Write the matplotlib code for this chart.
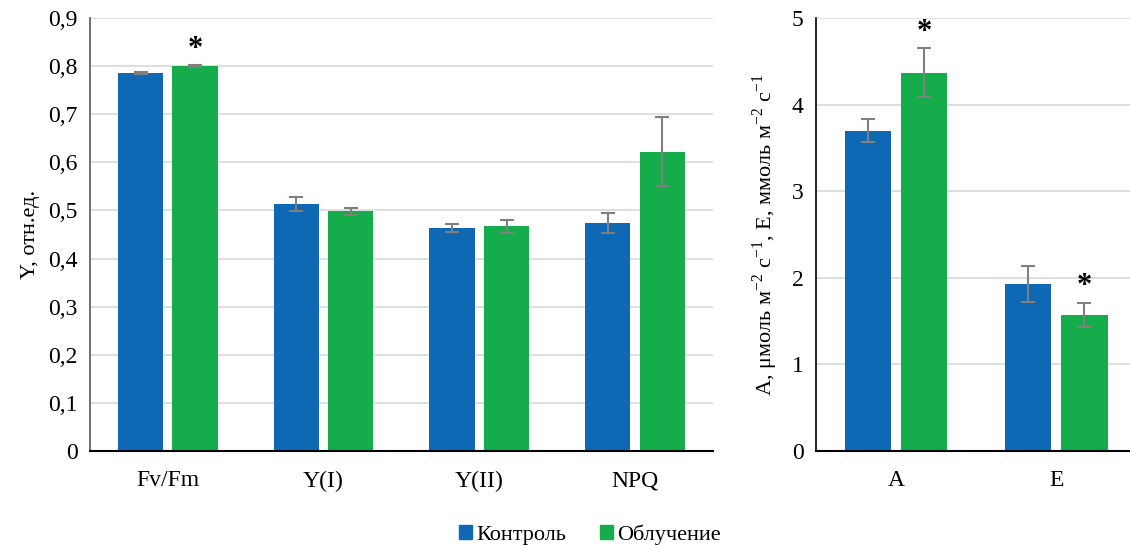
import matplotlib.pyplot as plt
import numpy as np
from matplotlib.patches import Patch

plt.rcParams['font.family'] = ['Liberation Serif', 'DejaVu Serif']
plt.rcParams['mathtext.fontset'] = 'custom'
plt.rcParams['mathtext.rm'] = 'Liberation Serif'

# left panel: fluorescence parameters
left_cats = ["Fv/Fm", "Y(I)", "Y(II)", "NPQ"]
left_ctrl = [0.786, 0.513, 0.464, 0.474]
left_ctrl_err = [0.002, 0.014, 0.008, 0.020]
left_irr = [0.800, 0.498, 0.467, 0.622]
left_irr_err = [0.002, 0.008, 0.014, 0.072]
left_star = [True, False, False, False]

# right panel: gas exchange
right_cats = ["A", "E"]
right_ctrl = [3.70, 1.93]
right_ctrl_err = [0.13, 0.21]
right_irr = [4.37, 1.57]
right_irr_err = [0.28, 0.14]
right_star = [True, True]

blue = "#0E68B4"
green = "#15AD4C"
grid_c = "#D9D9D9"
err_c = "#7F7F7F"

fig = plt.figure(figsize=(11.3, 5.46), dpi=100)
ax1 = fig.add_axes([0.0796, 0.174, 0.5513, 0.793])
ax2 = fig.add_axes([0.7221, 0.174, 0.2779, 0.793])

w = 0.29
off = 0.175


def draw(ax, cats, ctrl, cerr, irr, ierr, stars, star_pad):
    x = np.arange(len(cats))
    ax.bar(x - off, ctrl, w, color=blue, zorder=2)
    ax.bar(x + off, irr, w, color=green, zorder=2)
    ax.errorbar(x - off, ctrl, yerr=cerr, fmt='none', ecolor=err_c,
                elinewidth=1.5, capsize=5, capthick=1.5, zorder=3)
    ax.errorbar(x + off, irr, yerr=ierr, fmt='none', ecolor=err_c,
                elinewidth=1.5, capsize=5, capthick=1.5, zorder=3)
    for i, s in enumerate(stars):
        if s:
            ax.text(x[i] + off, irr[i] + ierr[i] + star_pad, "*",
                    ha='center', va='bottom', fontsize=22, fontweight='bold')
    ax.set_xticks(x)
    ax.set_xticklabels(cats, fontsize=17)
    ax.tick_params(axis='x', length=0, pad=14)
    ax.tick_params(axis='y', length=0, labelsize=17, pad=9)
    ax.yaxis.grid(True, color=grid_c, linewidth=1.2, zorder=0)
    ax.set_axisbelow(True)
    for sp in ['top', 'right']:
        ax.spines[sp].set_visible(False)
    ax.spines['bottom'].set_color('black')
    ax.spines['bottom'].set_linewidth(1.5)
    ax.set_xlim(-0.5, len(cats) - 0.5)


draw(ax1, left_cats, left_ctrl, left_ctrl_err, left_irr, left_irr_err, left_star, 0.002)
ax1.set_ylim(0, 0.9)
yt = np.arange(0, 0.91, 0.1)
ax1.set_yticks(yt)
ax1.set_yticklabels(["0"] + [f"{v:.1f}".replace(".", ",") for v in yt[1:]])
ax1.spines['left'].set_color('#595959')
ax1.spines['left'].set_linewidth(1.2)
ax1.set_ylabel("Y, отн.ед.", fontsize=16, labelpad=6)

draw(ax2, right_cats, right_ctrl, right_ctrl_err, right_irr, right_irr_err, right_star, 0.02)
ax2.set_xlim(-0.5, 1.46)
ax2.set_ylim(0, 5)
ax2.set_yticks(range(6))
ax2.spines['left'].set_color('black')
ax2.spines['left'].set_linewidth(1.2)
ax2.set_ylabel("A, μмоль м$^{-2}$ с$^{-1}$, E, ммоль м$^{-2}$ с$^{-1}$",
               fontsize=16, labelpad=8)

handles = [Patch(color=blue, label="Контроль"), Patch(color=green, label="Облучение")]
fig.legend(handles=handles, loc='lower center', bbox_to_anchor=(0.522, -0.035),
           ncol=2, frameon=False, fontsize=16, handlelength=0.6, handleheight=0.6,
           handletextpad=0.2, columnspacing=1.5)

fig.savefig("out.png", dpi=100)
